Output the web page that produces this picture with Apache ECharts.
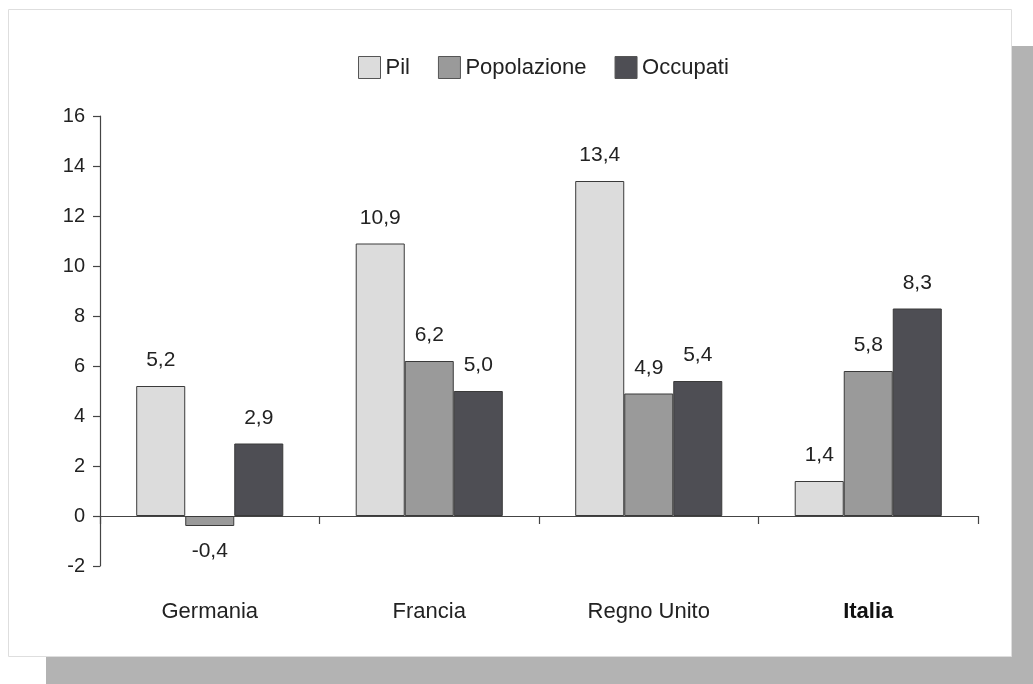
<!DOCTYPE html>
<html>
<head>
<meta charset="utf-8">
<script src="https://cdn.jsdelivr.net/npm/echarts@6/dist/echarts.min.js"></script>
<style>
  html, body { margin: 0; padding: 0; background: #ffffff; }
  #chart { width: 1033px; height: 684px; }
</style>
</head>
<body>
<div id="chart"></div>
<script>
// Countries on the horizontal axis
const categories = ['Germania', 'Francia', 'Regno Unito', 'Italia'];
// Percentage changes per series
const pil = [5.2, 10.9, 13.4, 1.4];
const popolazione = [-0.4, 6.2, 4.9, 5.8];
const occupati = [2.9, 5.0, 5.4, 8.3];
const seriesNames = ['Pil', 'Popolazione', 'Occupati'];
const seriesColors = ['#dcdcdc', '#9a9a9a', '#4e4e54'];
const yTicks = { min: -2, max: 16, interval: 2 };

const fontFamily = '"Liberation Sans", Arial, sans-serif';
const fmt = v => v.toFixed(1).replace('.', ',');

function barSeries(name, data, color) {
  return {
    name: name,
    type: 'bar',
    data: data,
    barGap: '0%',
    barCategoryGap: '33%',
    itemStyle: { color: color, borderColor: '#3a3a3a', borderWidth: 1 },
    label: {
      show: true,
      position: 'top',
      distance: 15,
      formatter: p => fmt(p.value),
      fontFamily: fontFamily,
      fontSize: 21,
      color: '#222'
    }
  };
}

const series = [
  barSeries(seriesNames[0], pil, seriesColors[0]),
  barSeries(seriesNames[1], popolazione.map(v => v < 0
    ? { value: v, label: { position: 'bottom' } } : v), seriesColors[1]),
  barSeries(seriesNames[2], occupati, seriesColors[2])
];

const chart = echarts.init(document.getElementById('chart'), null, { renderer: 'canvas' });
chart.setOption({
  animation: false,
  backgroundColor: 'transparent',
  graphic: [
    { type: 'rect', z: -10, shape: { x: 46, y: 46, width: 987, height: 638 },
      style: { fill: '#b3b3b3' } },
    { type: 'rect', z: -9, shape: { x: 8.5, y: 9.5, width: 1003, height: 647 },
      style: { fill: '#ffffff', stroke: '#dedede', lineWidth: 1 } }
  ],
  legend: {
    data: seriesNames,
    left: 353,
    top: 51,
    itemWidth: 22,
    itemHeight: 22,
    itemGap: 28,
    icon: 'rect',
    itemStyle: { borderColor: '#555', borderWidth: 1 },
    textStyle: { fontFamily: fontFamily, fontSize: 22, color: '#222' }
  },
  grid: { left: 100, right: 55, top: 116, bottom: 118, containLabel: false },
  xAxis: {
    type: 'category',
    data: categories,
    axisLine: { onZero: true, lineStyle: { color: '#444', width: 1.2 } },
    axisTick: { show: true, length: 8, lineStyle: { color: '#444', width: 1.2 } },
    axisLabel: {
      margin: 35,
      fontFamily: fontFamily,
      fontSize: 22,
      color: '#222',
      formatter: v => v === 'Italia' ? '{b|' + v + '}' : v,
      rich: { b: { fontWeight: 'bold', fontFamily: fontFamily, fontSize: 22, color: '#111' } }
    }
  },
  yAxis: {
    type: 'value',
    min: yTicks.min,
    max: yTicks.max,
    interval: yTicks.interval,
    axisLine: { show: true, lineStyle: { color: '#444', width: 1.2 } },
    axisTick: { show: true, length: 7, lineStyle: { color: '#444', width: 1.2 } },
    splitLine: { show: false },
    axisLabel: { margin: 15, fontFamily: fontFamily, fontSize: 20, color: '#222' }
  },
  series: series
});
</script>
</body>
</html>
